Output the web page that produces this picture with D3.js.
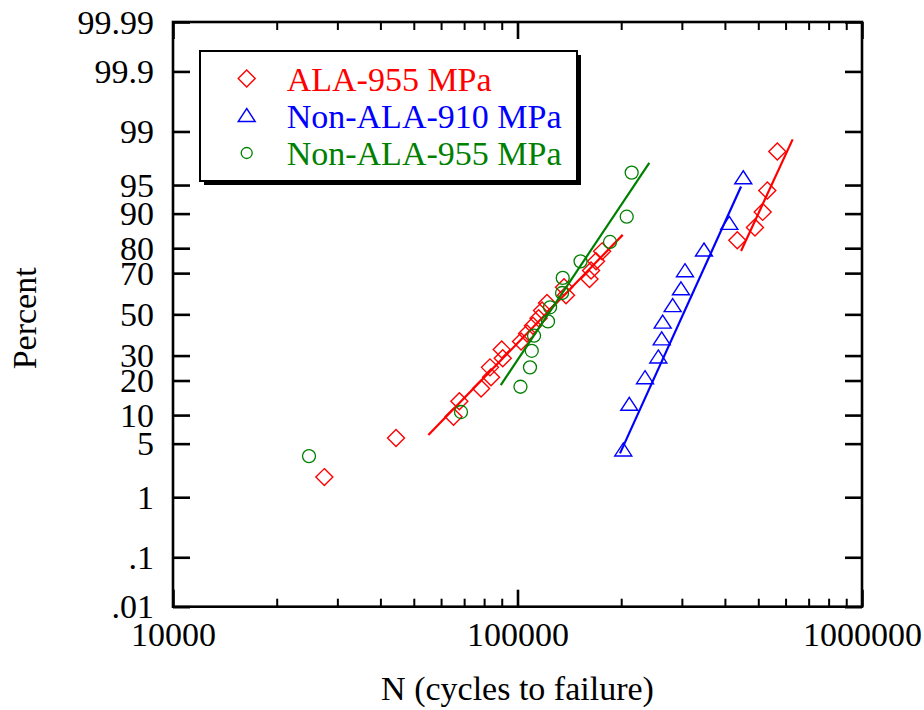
<!DOCTYPE html>
<html><head><meta charset="utf-8">
<script src="https://cdn.jsdelivr.net/npm/d3@7"></script>
<style>
body{margin:0;background:#fff}
svg{display:block}
text{font-family:"Liberation Serif","Times New Roman",serif}
</style>
</head><body>
<svg id="chart" width="924" height="710"></svg>
<script>
// ---------------- data ----------------
const seriesNames = ["ALA-955 MPa", "Non-ALA-910 MPa", "Non-ALA-955 MPa"];
const seriesColors = ["#ff0000", "#0000ff", "#008000"];

const alaN   = [27500, 44400, 65200, 67800, 78400, 83800, 83200, 90600, 90000, 102400,
                106600, 110900, 115100, 117800, 121800, 138300, 136500, 161800, 163500, 169000,
                176000, 434500, 489000, 514900, 531000, 567700];
const alaPct = [1.92, 5.77, 9.62, 13.46, 17.31, 21.15, 25.0, 28.85, 32.69, 36.54,
                40.38, 44.23, 48.08, 51.92, 55.77, 59.62, 63.46, 67.31, 71.15, 75.0,
                78.85, 82.69, 86.54, 90.38, 94.23, 98.08];

const non910N   = [202800, 211100, 234500, 256300, 262200, 263900, 282100, 298200, 306300, 347800, 411900, 452200];
const non910Pct = [4.17, 12.5, 20.83, 29.17, 37.5, 45.83, 54.17, 62.5, 70.83, 79.17, 87.5, 95.83];

const non955N   = [24820, 68550, 102000, 108700, 110000, 111700, 122600, 124300, 134700, 135300, 152400, 185600, 207500, 214500];
const non955Pct = [3.57, 10.71, 17.86, 25.0, 32.14, 39.29, 46.43, 53.57, 60.71, 67.86, 75.0, 82.14, 89.29, 96.43];

// fitted lines: [start, end]
const alaFitLowN  = [55100, 202000];   const alaFitLowPct  = [6.24, 84.4];
const alaFitHighN = [445600, 629100];  const alaFitHighPct = [79.0, 98.7];
const non910FitN  = [198400, 445600];  const non910FitPct  = [3.85, 94.8];
const non955FitN  = [89400, 241300];   const non955FitPct  = [18.4, 97.3];

const yTickValues = [0.01, 0.1, 1, 5, 10, 20, 30, 50, 70, 80, 90, 95, 99, 99.9, 99.99];
const yTickLabels = [".01", ".1", "1", "5", "10", "20", "30", "50", "70", "80", "90", "95", "99", "99.9", "99.99"];
const xMajorTicks = [10000, 100000, 1000000];
const xMajorLabels = ["10000", "100000", "1000000"];
const xMinorTicks = [20000,30000,40000,50000,60000,70000,80000,90000,200000,300000,400000,500000,600000,700000,800000,900000];

// ---------------- helpers ----------------
function probit(p) { // Acklam's inverse normal CDF
  const a=[-3.969683028665376e+01,2.209460984245205e+02,-2.759285104469687e+02,1.383577518672690e+02,-3.066479806614716e+01,2.506628277459239e+00];
  const b=[-5.447609879822406e+01,1.615858368580409e+02,-1.556989798598866e+02,6.680131188771972e+01,-1.328068155288572e+01];
  const c=[-7.784894002430293e-03,-3.223964580411365e-01,-2.400758277161838e+00,-2.549732539343734e+00,4.374664141464968e+00,2.938163982698783e+00];
  const d=[7.784695709041462e-03,3.224671290700398e-01,2.445134137142996e+00,3.754408661907416e+00];
  const pl=0.02425, ph=1-pl; let q,r;
  if (p<pl){q=Math.sqrt(-2*Math.log(p));return (((((c[0]*q+c[1])*q+c[2])*q+c[3])*q+c[4])*q+c[5])/((((d[0]*q+d[1])*q+d[2])*q+d[3])*q+1);}
  if (p<=ph){q=p-0.5;r=q*q;return (((((a[0]*r+a[1])*r+a[2])*r+a[3])*r+a[4])*r+a[5])*q/(((((b[0]*r+b[1])*r+b[2])*r+b[3])*r+b[4])*r+1);}
  q=Math.sqrt(-2*Math.log(1-p));return -(((((c[0]*q+c[1])*q+c[2])*q+c[3])*q+c[4])*q+c[5])/((((d[0]*q+d[1])*q+d[2])*q+d[3])*q+1);
}
const pz = pct => probit(pct/100);

// ---------------- layout ----------------
const L = 173, R = 862, T = 22, B = 606.7;
const svg = d3.select("#chart");
const x = d3.scaleLog().domain([1e4, 1e6]).range([L, R]);
const y = d3.scaleLinear().domain([pz(0.01), pz(99.99)]).range([B, T]);

const FS = 34;

// ---------------- axes ----------------
function styleAxis(g) {
  g.select(".domain").remove();
  g.selectAll(".tick line").attr("stroke", "#000").attr("stroke-width", 2.6);
  g.selectAll(".tick text").attr("fill", "#000").style("font-size", FS + "px")
    .style("font-family", '"Liberation Serif","Times New Roman",serif');
}
// y left
const yAxisL = d3.axisLeft(y).tickValues(yTickValues.map(pz))
  .tickFormat((d,i) => yTickLabels[i]).tickSize(-17).tickPadding(19);
svg.append("g").attr("transform", `translate(${L},0)`).call(yAxisL).call(styleAxis)
  .selectAll(".tick text").attr("dy", "0.33em");
// y right
const yAxisR = d3.axisRight(y).tickValues(yTickValues.map(pz)).tickFormat("").tickSize(-17);
svg.append("g").attr("transform", `translate(${R},0)`).call(yAxisR).call(styleAxis);

// x bottom
const xMajB = d3.axisBottom(x).tickValues(xMajorTicks).tickFormat((d,i)=>xMajorLabels[i]).tickSize(-17).tickPadding(15);
svg.append("g").attr("transform", `translate(0,${B})`).call(xMajB).call(styleAxis);
const xMinB = d3.axisBottom(x).tickValues(xMinorTicks).tickFormat("").tickSize(-8);
svg.append("g").attr("transform", `translate(0,${B})`).call(xMinB).call(styleAxis)
  .selectAll(".tick line").attr("stroke-width", 2);
// x top
const xMajT = d3.axisTop(x).tickValues(xMajorTicks).tickFormat("").tickSize(-17);
svg.append("g").attr("transform", `translate(0,${T})`).call(xMajT).call(styleAxis);
const xMinT = d3.axisTop(x).tickValues(xMinorTicks).tickFormat("").tickSize(-8);
svg.append("g").attr("transform", `translate(0,${T})`).call(xMinT).call(styleAxis)
  .selectAll(".tick line").attr("stroke-width", 2);

// frame
svg.append("rect").attr("x", L).attr("y", T).attr("width", R-L).attr("height", B-T)
  .attr("fill", "none").attr("stroke", "#000").attr("stroke-width", 2.6);

// axis titles
svg.append("text").attr("x", (L+R)/2).attr("y", 700).attr("text-anchor", "middle")
  .style("font-size", FS + "px").text("N (cycles to failure)");
svg.append("text").attr("transform", `translate(36,${(T+B)/2+4}) rotate(-90)`).attr("text-anchor", "middle")
  .style("font-size", FS + "px").text("Percent");

// ---------------- markers ----------------
const shapes = {
  diamond: "M0,-8.5L8.5,0L0,8.5L-8.5,0Z",
  triangle: "M0,-7.5L8.5,5.5L-8.5,5.5Z"
};
function drawSeries(ns, pcts, color, kind) {
  const g = svg.append("g");
  const pts = ns.map((n,i)=>[x(n), y(pz(pcts[i]))]);
  if (kind === "circle") {
    g.selectAll("circle").data(pts).join("circle")
      .attr("cx", d=>d[0]).attr("cy", d=>d[1]).attr("r", 6.5)
      .attr("fill", "none").attr("stroke", color).attr("stroke-width", 1.3);
  } else {
    g.selectAll("path").data(pts).join("path")
      .attr("d", shapes[kind]).attr("transform", d=>`translate(${d[0]},${d[1]})`)
      .attr("fill", "none").attr("stroke", color).attr("stroke-width", 1.4);
  }
}
function drawFit(ns, pcts, color) {
  const line = d3.line().x(d=>x(d[0])).y(d=>y(pz(d[1])));
  svg.append("path").attr("d", line(ns.map((n,i)=>[n, pcts[i]])))
    .attr("fill", "none").attr("stroke", color).attr("stroke-width", 2.2);
}

drawSeries(alaN, alaPct, seriesColors[0], "diamond");
drawFit(alaFitLowN, alaFitLowPct, seriesColors[0]);
drawFit(alaFitHighN, alaFitHighPct, seriesColors[0]);
drawSeries(non910N, non910Pct, seriesColors[1], "triangle");
drawFit(non910FitN, non910FitPct, seriesColors[1]);
drawSeries(non955N, non955Pct, seriesColors[2], "circle");
drawFit(non955FitN, non955FitPct, seriesColors[2]);

// ---------------- legend ----------------
const lg = svg.append("g");
lg.append("rect").attr("x", 204).attr("y", 55).attr("width", 377).attr("height", 130).attr("fill", "#000");
lg.append("rect").attr("x", 200).attr("y", 51).attr("width", 377).attr("height", 130)
  .attr("fill", "#fff").attr("stroke", "#000").attr("stroke-width", 2);
const rowsY = [78.5, 116, 153];
const kinds = ["diamond", "triangle", "circle"];
seriesNames.forEach((name, i) => {
  const cy = rowsY[i], col = seriesColors[i];
  if (kinds[i] === "circle") {
    lg.append("circle").attr("cx", 246.7).attr("cy", cy).attr("r", 5.5)
      .attr("fill", "none").attr("stroke", col).attr("stroke-width", 1.3);
  } else {
    lg.append("path").attr("d", shapes[kinds[i]]).attr("transform", `translate(246.7,${cy})`)
      .attr("fill", "none").attr("stroke", col).attr("stroke-width", 1.4);
  }
  lg.append("text").attr("x", 286.7).attr("y", cy + 12).attr("fill", col)
    .style("font-size", FS + "px").text(name);
});
</script>
</body></html>
